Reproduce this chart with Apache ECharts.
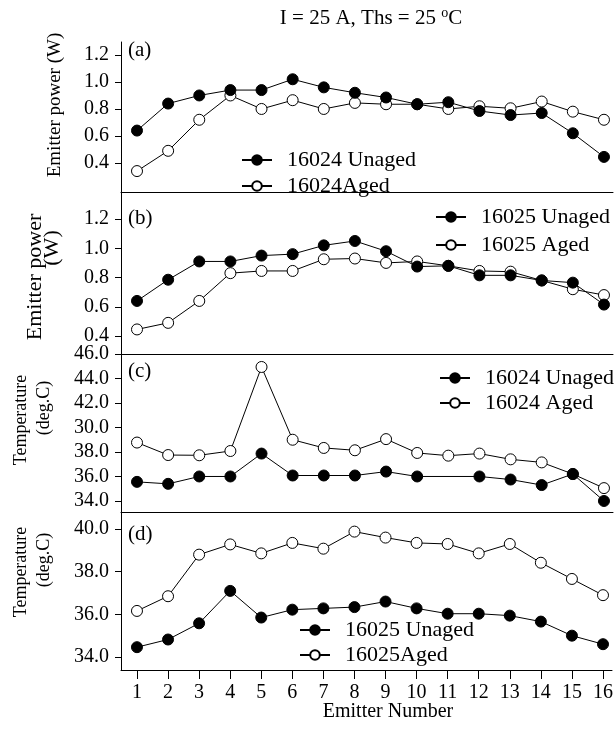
<!DOCTYPE html>
<html>
<head>
<meta charset="utf-8">
<script src="https://cdn.jsdelivr.net/npm/echarts@6/dist/echarts.min.js"></script>
<style>
  html, body { margin: 0; padding: 0; background: #fff; }
  #chart { width: 616px; height: 729px; }
</style>
</head>
<body>
<div id="chart"></div>
<script>
// emitter index on the x axis
const emitters = [1, 2, 3, 4, 5, 6, 7, 8, 9, 10, 11, 12, 13, 14, 15, 16];

// (a) emitter power, 16024
const aUnaged = [0.64, 0.84, 0.90, 0.94, 0.94, 1.02, 0.96, 0.92, 0.885, 0.835, 0.85, 0.785, 0.755, 0.77, 0.62, 0.445];
const aAged = [0.34, 0.49, 0.72, 0.90, 0.80, 0.865, 0.80, 0.845, 0.835, 0.835, 0.80, 0.82, 0.805, 0.855, 0.78, 0.72];
// (b) emitter power, 16025
const bUnaged = [0.64, 0.785, 0.91, 0.91, 0.95, 0.96, 1.02, 1.05, 0.98, 0.875, 0.88, 0.815, 0.815, 0.78, 0.765, 0.615];
const bAged = [0.445, 0.49, 0.64, 0.83, 0.845, 0.845, 0.925, 0.93, 0.90, 0.91, 0.88, 0.845, 0.84, 0.78, 0.72, 0.68];
// (c) temperature, 16024 (no marker at emitter 11 for unaged)
const cUnaged = [35.56, 35.4, 36.0, 36.0, 37.87, 36.08, 36.08, 36.08, 36.4, 36.0, null, 36.0, 35.75, 35.3, 36.2, 34.0];
const cAged = [38.77, 37.75, 37.73, 38.08, 44.94, 39.0, 38.33, 38.14, 39.05, 37.92, 37.7, 37.87, 37.4, 37.15, 36.2, 35.05];
// (d) temperature, 16025
const dUnaged = [34.46, 34.82, 35.58, 37.1, 35.85, 36.22, 36.28, 36.34, 36.6, 36.28, 36.03, 36.03, 35.94, 35.66, 35.0, 34.6];
const dAged = [36.16, 36.85, 38.8, 39.28, 38.86, 39.35, 39.08, 39.88, 39.6, 39.35, 39.3, 38.86, 39.3, 38.42, 37.66, 36.9];

// tick values and labels
const powerTicks = [0.4, 0.6, 0.8, 1.0, 1.2];
const tempTicksC = [34, 36, 38, 40, 42, 44, 46];
const tempLabelsC = ['34.0', '36.0', '38.0', '30.0', '42.0', '44.0', '46.0'];
const tempTicksD = [34, 36, 38, 40];

const FONT = "'Liberation Serif', 'Times New Roman', serif";

const chart = echarts.init(document.getElementById('chart'));

const panels = [
  { top: 42, height: 150, min: 0.185, max: 1.296, ticks: powerTicks, fmt: v => v.toFixed(1) },
  { top: 192, height: 162, min: 0.277, max: 1.385, ticks: powerTicks, fmt: v => v.toFixed(1) },
  { top: 354, height: 158, min: 33.1, max: 46, ticks: tempTicksC, fmt: v => tempLabelsC[tempTicksC.indexOf(v)] },
  { top: 512, height: 158, min: 33.39, max: 40.8, ticks: tempTicksD, fmt: v => v.toFixed(1) }
];

const grid = panels.map(p => ({ left: 121, width: 492, top: p.top, height: p.height }));

const xAxis = panels.map((p, i) => ({
  type: 'value',
  gridIndex: i,
  min: 0.486,
  max: 16.29,
  splitLine: { show: false },
  axisLine: { show: true, onZero: false, lineStyle: { color: '#000', width: 1 } },
  axisTick: { show: i === 3, inside: false, length: 9, customValues: emitters, lineStyle: { color: '#000' } },
  axisLabel: {
    show: i === 3, customValues: emitters, margin: 13,
    fontFamily: FONT, fontSize: 20, color: '#000'
  }
}));

const yAxis = panels.map((p, i) => ({
  type: 'value',
  gridIndex: i,
  min: p.min,
  max: p.max,
  splitLine: { show: false },
  axisLine: { show: true, onZero: false, lineStyle: { color: '#000', width: 1 } },
  axisTick: { show: true, length: 6, customValues: p.ticks, lineStyle: { color: '#000' } },
  axisLabel: {
    customValues: p.ticks, margin: 12, formatter: p.fmt,
    fontFamily: FONT, fontSize: 20, color: '#000'
  }
}));

function pts(vals) {
  return emitters.map((e, k) => [e, vals[k]]);
}

function line(name, vals, idx, filled) {
  return {
    name: name,
    type: 'line',
    xAxisIndex: idx,
    yAxisIndex: idx,
    data: pts(vals),
    connectNulls: true,
    symbol: 'circle',
    symbolSize: 11,
    lineStyle: { color: '#000', width: 1 },
    itemStyle: filled
      ? { color: '#000', borderColor: '#000', borderWidth: 1 }
      : { color: '#fff', borderColor: '#000', borderWidth: 1 },
    emphasis: { disabled: true },
    z: filled ? 3 : 2
  };
}

const series = [
  line('16024 Unaged', aUnaged, 0, true),
  line('16024Aged', aAged, 0, false),
  line('16025 Unaged', bUnaged, 1, true),
  line('16025 Aged', bAged, 1, false),
  line('16024 Unaged', cUnaged, 2, true),
  line('16024 Aged', cAged, 2, false),
  line('16025 Unaged', dUnaged, 3, true),
  line('16025Aged', dAged, 3, false)
];

function legend(names, left, top, gap) {
  return {
    data: names,
    left: left,
    top: top,
    orient: 'vertical',
    itemWidth: 30,
    itemHeight: 12,
    itemGap: gap,
    selectedMode: false,
    textStyle: { fontFamily: FONT, fontSize: 22, color: '#000', padding: [0, 0, 0, 10] }
  };
}

const legends = [
  legend(['16024 Unaged', '16024Aged'], 236, 144, 4),
  legend(['16025 Unaged', '16025 Aged'], 430, 201, 6),
  legend(['16024 Unaged', '16024 Aged'], 434, 362, 3),
  legend(['16025 Unaged', '16025Aged'], 294, 614, 3)
];

function vtext(str, x, y, size) {
  return {
    type: 'text', x: x, y: y, rotation: Math.PI / 2,
    style: { text: str, fontFamily: FONT, fontSize: size, fill: '#000', align: 'center', verticalAlign: 'middle' }
  };
}

function htext(str, x, y, size, align) {
  return {
    type: 'text', x: x, y: y,
    style: { text: str, fontFamily: FONT, fontSize: size, fill: '#000', align: align || 'left', verticalAlign: 'middle' }
  };
}

const graphic = [
  {
    type: 'text', x: 371, y: 18,
    style: {
      text: 'I = 25 A, Ths = 25 {s|o}C',
      fontFamily: FONT, fontSize: 21, fill: '#000', align: 'center', verticalAlign: 'middle',
      rich: { s: { fontFamily: FONT, fontSize: 14, verticalAlign: 'top', padding: [0, 0, 10, 0] } }
    }
  },
  htext('(a)', 128, 50, 21),
  htext('(b)', 128, 218, 21),
  htext('(c)', 128, 371, 21),
  htext('(d)', 128, 534, 21),
  vtext('Emitter power (W)', 55, 105, 19),
  vtext('Emitter power', 35, 277, 22),
  vtext('(W)', 52, 248, 22),
  vtext('Temperature', 21, 420, 18),
  vtext('(deg.C)', 44, 408, 18),
  vtext('Temperature', 21, 572, 18),
  vtext('(deg.C)', 44, 560, 18),
  htext('Emitter Number', 388, 712, 20, 'center')
];

chart.setOption({
  animation: false,
  backgroundColor: '#fff',
  textStyle: { fontFamily: FONT, color: '#000' },
  grid: grid,
  xAxis: xAxis,
  yAxis: yAxis,
  legend: legends,
  graphic: graphic,
  series: series
});
</script>
</body>
</html>
